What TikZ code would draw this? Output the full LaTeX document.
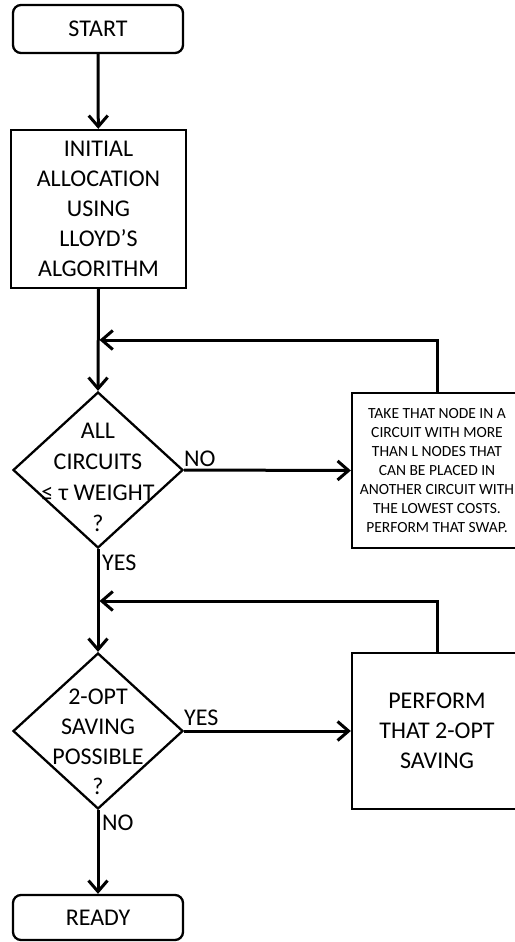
\documentclass[tikz,border=0pt]{standalone}
\usepackage{fontspec}
\setmainfont{Carlito}
\usetikzlibrary{arrows.meta,shapes.geometric}
\begin{document}
\begin{tikzpicture}[x=1pt,y=-1pt,
  every node/.style={font=\fontsize{24}{30}\selectfont, align=center, inner sep=0pt, text=black},
  term/.style={draw=black, line width=2.3pt, rounded corners=8pt, minimum width=170pt},
  proc/.style={draw=black, line width=2.3pt},
  dec/.style={draw=black, diamond, line width=2.3pt, minimum width=170pt, minimum height=156pt, inner sep=0pt},
  conn/.style={line width=3pt, -{Straight Barb[length=11pt,width=19pt,line width=3pt]}},
  lab/.style={anchor=west}]
\useasboundingbox (0,0) rectangle (514,942);
% nodes
\node[term, minimum height=48pt] (start) at (98,29) {START};
\node[proc, minimum width=175pt, minimum height=158pt] (init) at (98.5,209)
  {INITIAL\\ALLOCATION\\USING\\LLOYD’S\\ALGORITHM};
\node[dec] (d1) at (98,470) {};
\node[font=\fontsize{24}{31}\selectfont] (d1t) at (98,477) {ALL\\CIRCUITS\\≤ τ WEIGHT\\?};
\node[proc, minimum width=170pt, minimum height=155pt, font=\fontsize{15.5}{19}\selectfont] (swap) at (437,470.5)
  {TAKE THAT NODE IN A\\CIRCUIT WITH MORE\\THAN L NODES THAT\\CAN BE PLACED IN\\ANOTHER CIRCUIT WITH\\THE LOWEST COSTS.\\PERFORM THAT SWAP.};
\node[dec] (d2) at (98,731) {};
\node (d2t) at (98,742) {2-OPT\\SAVING\\POSSIBLE\\?};
\node[proc, minimum width=170pt, minimum height=156pt] (opt) at (437,731)
  {PERFORM\\THAT 2-OPT\\SAVING};
\node[term, minimum height=45pt] (ready) at (98,917.5) {READY};
% labels
\node[lab] (no1) at (184,459) {NO};
\node[lab] (yes1) at (102,563) {YES};
\node[lab] (yes2) at (184,718) {YES};
\node[lab] (no2) at (102,823) {NO};
% junctions
\coordinate (j1) at (99.5,340);
\coordinate (j2) at (99.5,601);
% connectors
\draw[conn] (start) -- (init);
\draw[conn] (init.south) -- (d1.north);
\draw[conn] (swap.north) |- (j1);
\draw[conn] (d1.east) -- (swap.west);
\draw[conn] (d1.south) -- (d2.north);
\draw[conn] (opt.north) |- (j2);
\draw[conn] (d2.east) -- (opt.west);
\draw[conn] (d2.south) -- (ready.north);
\end{tikzpicture}
\end{document}
